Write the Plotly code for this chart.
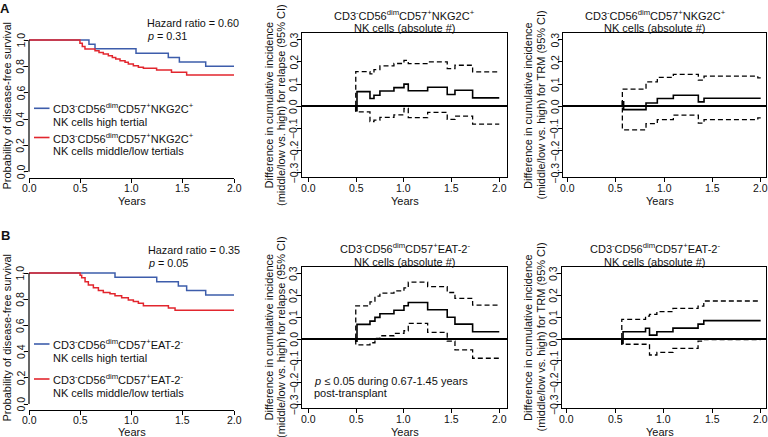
import plotly.graph_objects as go

W, H = 768, 437
def px(x): return x / W
def py(y): return 1 - y / H

FONT = "Liberation Sans, Arial, sans-serif"
BLUE = "#3d5dab"
RED = "#e2262e"

# ---------------- data ----------------
# Panel A: Kaplan-Meier disease-free survival
a_km_high_t = [0, 0.585, 0.644, 1.044, 1.359, 1.467, 1.724, 2.0]
a_km_high_s = [1.0, 0.967, 0.933, 0.9, 0.867, 0.833, 0.8, 0.8]
a_km_low_t = [0, 0.497, 0.52, 0.546, 0.644, 0.683, 0.725, 0.774, 0.813, 0.846, 0.888,
              0.937, 0.969, 1.018, 1.067, 1.116, 1.245, 1.39, 1.538, 2.0]
a_km_low_s = [1.0, 0.975, 0.95, 0.932, 0.919, 0.906, 0.894, 0.881, 0.868, 0.856, 0.843,
              0.831, 0.818, 0.805, 0.793, 0.785, 0.772, 0.755, 0.734, 0.734]

# Panel B: Kaplan-Meier disease-free survival
b_km_high_t = [0, 0.839, 1.246, 1.457, 1.538, 1.724, 2.0]
b_km_high_s = [1.0, 0.967, 0.933, 0.9, 0.867, 0.833, 0.833]
b_km_low_t = [0, 0.498, 0.514, 0.547, 0.579, 0.628, 0.677, 0.725, 0.79, 0.839, 0.904,
              0.969, 1.018, 1.067, 1.116, 1.36, 1.425, 2.0]
b_km_low_s = [1.0, 0.983, 0.963, 0.933, 0.908, 0.888, 0.867, 0.852, 0.842, 0.827, 0.812,
              0.794, 0.782, 0.769, 0.751, 0.733, 0.716, 0.716]

# Panel A: difference in cumulative incidence of relapse
a_rel_t = [0, 0.497, 0.51, 0.646, 0.688, 0.75, 0.897, 1.002, 1.047, 1.25, 1.455, 1.536, 1.721, 2.0]
a_rel_est = [0, -0.02, 0.066, 0.035, 0.05, 0.069, 0.084, 0.10, 0.07, 0.086, 0.053, 0.072, 0.038, 0.038]
a_rel_hi = [0, 0.156, 0.156, 0.146, 0.165, 0.182, 0.193, 0.207, 0.192, 0.2, 0.17, 0.185, 0.155, 0.155]
a_rel_lo = [0, -0.025, -0.025, -0.069, -0.062, -0.05, -0.039, -0.01, -0.051, -0.027, -0.059, -0.044, -0.08, -0.08]

# Panel A: difference in cumulative incidence of TRM
a_trm_t = [0, 0.567, 0.58, 0.812, 0.929, 1.095, 1.354, 1.413, 1.97, 2.0]
a_trm_est = [0, 0.02, -0.015, 0.015, 0.035, 0.05, 0.02, 0.036, 0.036, 0.036]
a_trm_hi = [0, 0.077, 0.077, 0.11, 0.13, 0.144, 0.118, 0.136, 0.128, 0.128]
a_trm_lo = [0, -0.106, -0.106, -0.078, -0.06, -0.04, -0.076, -0.06, -0.052, -0.052]

# Panel B: difference in cumulative incidence of relapse
b_rel_t = [0, 0.497, 0.51, 0.646, 0.698, 0.75, 0.897, 1.002, 1.047, 1.25, 1.455, 1.536, 1.721, 2.0]
b_rel_est = [0, -0.01, 0.067, 0.082, 0.099, 0.116, 0.132, 0.152, 0.167, 0.134, 0.10, 0.068, 0.033, 0.033]
b_rel_hi = [0, 0.152, 0.152, 0.17, 0.196, 0.21, 0.22, 0.234, 0.26, 0.24, 0.213, 0.186, 0.155, 0.155]
b_rel_lo = [0, -0.027, -0.027, -0.017, 0.003, 0.015, 0.026, 0.038, 0.072, 0.03, -0.01, -0.05, -0.088, -0.088]

# Panel B: difference in cumulative incidence of TRM
b_trm_t = [0, 0.567, 0.58, 0.812, 0.853, 0.929, 1.095, 1.354, 1.413, 2.0]
b_trm_est = [0, -0.02, 0.033, 0.049, 0.018, 0.033, 0.05, 0.068, 0.084, 0.084]
b_trm_hi = [0, 0.09, 0.09, 0.105, 0.113, 0.125, 0.14, 0.151, 0.174, 0.174]
b_trm_lo = [0, -0.024, -0.024, -0.024, -0.073, -0.061, -0.043, -0.01, -0.003, -0.003]

x_ticks = [0, 0.5, 1.0, 1.5, 2.0]
x_ticklabels = ["0.0", "0.5", "1.0", "1.5", "2.0"]
km_ticks = [0, 0.2, 0.4, 0.6, 0.8, 1.0]
km_ticklabels = ["0.0", "0.2", "0.4", "0.6", "0.8", "1.0"]
diff_ticks = [-0.3, -0.2, -0.1, 0, 0.1, 0.2, 0.3]
diff_ticklabels = ["\u22120.3", "\u22120.2", "\u22120.1", "0.0", "0.1", "0.2", "0.3"]

NKG2C = "CD3<sup>-</sup>CD56<sup>dim</sup>CD57<sup>+</sup>NKG2C<sup>+</sup>"
EAT2 = "CD3<sup>-</sup>CD56<sup>dim</sup>CD57<sup>+</sup>EAT-2<sup>-</sup>"

# ---------------- figure ----------------
fig = go.Figure()

def add_step(x, y, xa, ya, color="black", width=1.5, dash="solid"):
    fig.add_trace(go.Scatter(x=x, y=y, mode="lines", line=dict(color=color, width=width, dash=dash, shape="hv"),
                             xaxis=xa, yaxis=ya, showlegend=False, hoverinfo="skip"))

add_step(a_km_high_t, a_km_high_s, "x", "y", BLUE)
add_step(a_km_low_t, a_km_low_s, "x", "y", RED)
add_step(b_km_high_t, b_km_high_s, "x4", "y4", BLUE)
add_step(b_km_low_t, b_km_low_s, "x4", "y4", RED)

DASH = "5px,3px"
for (t, est, hi, lo, xa, ya) in [
    (a_rel_t, a_rel_est, a_rel_hi, a_rel_lo, "x2", "y2"),
    (a_trm_t, a_trm_est, a_trm_hi, a_trm_lo, "x3", "y3"),
    (b_rel_t, b_rel_est, b_rel_hi, b_rel_lo, "x5", "y5"),
    (b_trm_t, b_trm_est, b_trm_hi, b_trm_lo, "x6", "y6"),
]:
    add_step(t, hi, xa, ya, width=1.3, dash=DASH)
    add_step(t, lo, xa, ya, width=1.3, dash=DASH)
    add_step(t, est, xa, ya, width=1.6)

TICKSZ = 10.5

def km_x(domain, anchor):
    return dict(domain=domain, range=[0, 2.0], anchor=anchor, showline=True, linecolor="black",
                linewidth=1.2, ticks="outside", ticklen=4, tickwidth=1.1, tickcolor="black",
                tickvals=x_ticks, showticklabels=False, showgrid=False, zeroline=False)

def km_y(domain, rng, anchor):
    return dict(domain=domain, range=rng, anchor=anchor, showline=False, ticks="outside",
                ticklen=4, tickwidth=1.1, tickcolor="black", tickvals=km_ticks,
                showticklabels=False, showgrid=False, zeroline=False)

def d_x(domain, rng, anchor):
    return dict(domain=domain, range=rng, anchor=anchor, showline=True, mirror=True,
                linecolor="black", linewidth=1.2, ticks="outside", ticklen=4, tickwidth=1.1,
                tickcolor="black", tickvals=x_ticks, showticklabels=False,
                showgrid=False, zeroline=False)

def d_y(domain, rng, anchor):
    return dict(domain=domain, range=rng, anchor=anchor, showline=True, mirror=True,
                linecolor="black", linewidth=1.2, ticks="outside", ticklen=4, tickwidth=1.1,
                tickcolor="black", tickvals=diff_ticks, showticklabels=False,
                showgrid=False, zeroline=True, zerolinecolor="black", zerolinewidth=1.5)

# pixel geometry of the panels
TOP_KM_B, BOT_KM_B = 177.5, 409.5        # KM x-axis line positions
TOP_BOX_B, BOT_BOX_B = 177.3, 408.3      # bottoms of boxed panels
KM_L = 29
MID_L, MID_R = 302.1, 506.9
R_L_A, R_L_B, R_R = 563.3, 562, 766

fig.update_layout(
    width=W, height=H, margin=dict(l=0, r=0, t=0, b=0),
    paper_bgcolor="white", plot_bgcolor="white", showlegend=False,
    font=dict(family=FONT, size=11, color="#222"),
    xaxis=km_x([px(KM_L), px(234)], "y"),
    yaxis=km_y([py(TOP_KM_B), py(37)], [-0.044, 1.0228], "x"),
    xaxis2=d_x([px(MID_L), px(MID_R)], [-0.065, 2.08], "y2"),
    yaxis2=d_y([py(TOP_BOX_B), py(33.3)], [-0.32, 0.329], "x2"),
    xaxis3=d_x([px(R_L_A), px(R_R)], [-0.045, 2.055], "y3"),
    yaxis3=d_y([py(TOP_BOX_B), py(33.3)], [-0.32, 0.329], "x3"),
    xaxis4=km_x([px(KM_L), px(234)], "y4"),
    yaxis4=km_y([py(BOT_KM_B), py(270)], [-0.042, 1.023], "x4"),
    xaxis5=d_x([px(MID_L), px(MID_R)], [-0.065, 2.08], "y5"),
    yaxis5=d_y([py(BOT_BOX_B), py(266.7)], [-0.317, 0.331], "x5"),
    xaxis6=d_x([px(R_L_B), px(R_R)], [-0.05, 2.055], "y6"),
    yaxis6=d_y([py(BOT_BOX_B), py(266.7)], [-0.317, 0.331], "x6"),
)

# left y-axis lines drawn only from 0 to 1 (R style)
for xr, yr in [("x", "y"), ("x4", "y4")]:
    fig.add_shape(type="line", xref=f"{xr} domain", yref=yr, x0=0, x1=0, y0=0, y1=1,
                  line=dict(color="black", width=1.2))

def ann(text, x, y, xanchor="center", yanchor="middle", size=11, angle=0, bold=False,
        xref="paper", yref="paper"):
    if bold:
        text = f"<b>{text}</b>"
    fig.add_annotation(text=text, x=px(x) if xref == "paper" else x,
                       y=py(y) if yref == "paper" else y, xref=xref, yref=yref,
                       xanchor=xanchor, yanchor=yanchor, showarrow=False, textangle=angle,
                       borderpad=0, font=dict(family=FONT, size=size, color="#111"))

# tick labels placed through each axis' own scale
for xa, ybase in [("x", TOP_KM_B), ("x2", TOP_BOX_B), ("x3", TOP_BOX_B),
                  ("x4", BOT_KM_B), ("x5", BOT_BOX_B), ("x6", BOT_BOX_B)]:
    for v, lbl in zip(x_ticks, x_ticklabels):
        ann(lbl, v, ybase + 10.5, xref=xa, size=TICKSZ)
for ya, xbase in [("y", KM_L), ("y4", KM_L)]:
    for v, lbl in zip(km_ticks, km_ticklabels):
        ann(lbl, xbase - 8.5, v, yref=ya, size=TICKSZ, angle=-90)
for ya, xbase in [("y2", MID_L), ("y3", R_L_A), ("y5", MID_L), ("y6", R_L_B)]:
    for v, lbl in zip(diff_ticks, diff_ticklabels):
        ann(lbl, xbase - 8.5, v, yref=ya, size=TICKSZ, angle=-90)

# panel letters
ann("A", 5, 8, size=13, bold=True)
ann("B", 5, 235, size=13, bold=True)

# Hazard ratio text
ann("Hazard ratio = 0.60", 145.5, 23.3, xanchor="left", size=10.8)
ann("<i>p</i> = 0.31", 145.5, 35.5, xanchor="left", size=10.8)
ann("Hazard ratio = 0.35", 146.5, 250, xanchor="left", size=10.8)
ann("<i>p</i> = 0.05", 146.5, 262.7, xanchor="left", size=10.8)

# legends (manual)
for (lbl, yb, yr) in [(NKG2C, 108.3, 137.5), (EAT2, 344, 379)]:
    for col, yy, second in [(BLUE, yb, "NK cells high tertial"), (RED, yr, "NK cells middle/low tertials")]:
        fig.add_shape(type="line", xref="paper", yref="paper", x0=px(34), x1=px(49.5), y0=py(yy), y1=py(yy),
                      line=dict(color=col, width=1.6))
        ann(lbl, 51.5, yy, xanchor="left")
        ann(second, 51.5, yy + 13.5, xanchor="left")

# y-axis titles
ann("Probability of disease-free survival", 6.5, 106, angle=-90)
ann("Probability of disease-free survival", 6.5, 338, angle=-90)
for yc in (105.5, 337.5):
    ann("Difference in cumulative incidence", 268, yc, angle=-90)
    ann("(middle/low vs. high) for relapse (95% CI)", 280.5, yc, angle=-90)
    ann("Difference in cumulative incidence", 527.5, yc, angle=-90)
    ann("(middle/low vs. high) for TRM (95% CI)", 540, yc, angle=-90)

# x-axis titles
for xc in (131.5, 404.5, 660):
    ann("Years", xc, 200.5)
    ann("Years", xc, 431.5)

# panel titles
ann(NKG2C, 404.5, 15)
ann("NK cells (absolute #)", 404.5, 28.3)
ann(NKG2C, 655, 15)
ann("NK cells (absolute #)", 655, 28.3)
ann(EAT2, 405, 248.3)
ann("NK cells (absolute #)", 405, 261.7)
ann(EAT2, 655, 248.3)
ann("NK cells (absolute #)", 655, 261.7)

# significance note
ann("<i>p</i> \u2264 0.05 during 0.67-1.45 years", 313, 380.7, xanchor="left")
ann("post-transplant", 313, 393.3, xanchor="left")

fig.write_html("out.html", config={"displayModeBar": False},
               post_script="document.body.style.margin='0px';document.body.style.overflow='hidden';")
